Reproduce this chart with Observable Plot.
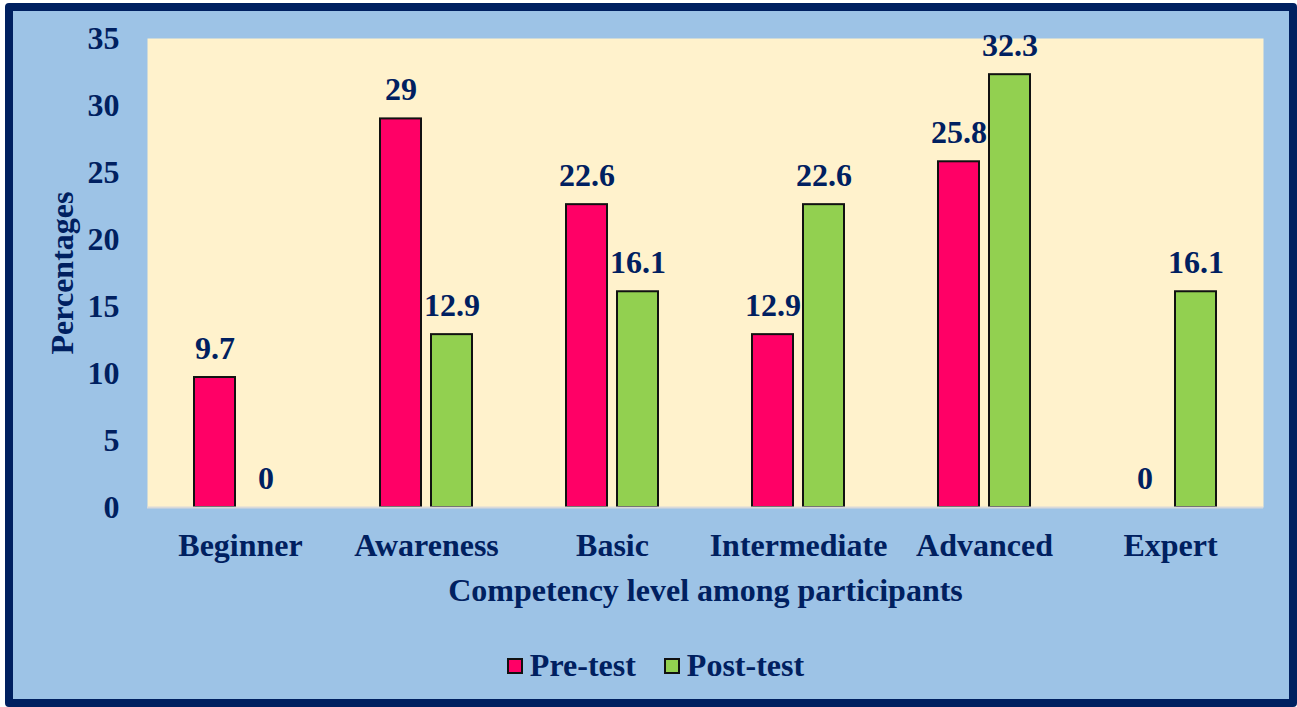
<!DOCTYPE html>
<html>
<head>
<meta charset="utf-8">
<script src="https://cdn.jsdelivr.net/npm/d3@7"></script>
<script src="https://cdn.jsdelivr.net/npm/@observablehq/plot@0.6"></script>
<style>
  html, body { margin: 0; padding: 0; background: #ffffff; }
  #frame {
    position: absolute; left: 5px; top: 3px; width: 1276px; height: 688px;
    border: 8px solid #002060; border-radius: 4px; background: #9DC3E6;
  }
  #chart { position: absolute; left: 0; top: 0; }
  #chart svg text { font-family: "Times New Roman", "Liberation Serif", "DejaVu Serif", serif; }
  #legend {
    position: absolute; left: 7px; top: 645px; width: 1297px; text-align: center; line-height: 40px;
    font-family: "Times New Roman", "Liberation Serif", "DejaVu Serif", serif; font-weight: bold; font-size: 32px; color: #002060;
  }
  .sw { display: inline-block; width: 12px; height: 12px; border: 2px solid #111; margin-right: 7px; vertical-align: 2px; }
  .item { display: inline-block; margin: 0 14px; }
</style>
</head>
<body>
<div id="frame"></div>
<div id="chart"></div>
<div id="legend"></div>
<script>
const categories = ["Beginner", "Awareness", "Basic", "Intermediate", "Advanced", "Expert"];
const series = ["Pre-test", "Post-test"];
const preTest = [9.7, 29, 22.6, 12.9, 25.8, 0];
const postTest = [0, 12.9, 16.1, 22.6, 32.3, 16.1];
const colors = ["#FF0066", "#92D050"];
const yTicks = [0, 5, 10, 15, 20, 25, 30, 35];

const data = [];
categories.forEach((c, i) => {
  data.push({category: c, series: series[0], value: preTest[i]});
  data.push({category: c, series: series[1], value: postTest[i]});
});

const navy = "#002060";
const serifFont = "'Times New Roman', 'Liberation Serif', 'DejaVu Serif', serif";
const plot = Plot.plot({
  width: 1297,
  height: 620,
  marginLeft: 146,
  marginRight: 33,
  marginTop: 38,
  marginBottom: 113,
  style: {background: "transparent", fontFamily: serifFont, fontWeight: "bold", fontSize: "32px", color: navy},
  fx: {domain: categories, padding: 0, label: null},
  x: {domain: series, paddingInner: 0.19, paddingOuter: 0.89, axis: null},
  y: {domain: [0, 35], label: null},
  color: {domain: series, range: colors},
  marks: [
    Plot.frame({fill: "#FFF2CC", stroke: null, facet: "super"}),
    Plot.axisY({ticks: yTicks, tickSize: 0, tickPadding: 28, label: "Percentages", labelAnchor: "center", labelArrow: "none", labelOffset: 97, fill: navy, fontSize: 32}),
    Plot.axisFx({anchor: "bottom", tickSize: 0, tickPadding: 26, label: "Competency level among participants", labelAnchor: "center", labelArrow: "none", labelOffset: 93, fill: navy, fontSize: 32}),
    Plot.barY(data, {fx: "category", x: "series", y: "value", fill: "series", stroke: "#111", strokeWidth: 2}),
    Plot.ruleY([0], {stroke: "#D9D9D9", strokeWidth: 2}),
    Plot.text(data, {fx: "category", x: "series", y: "value", text: d => String(d.value), lineAnchor: "bottom", dy: -19, fill: navy, fontSize: 32, fontWeight: "bold"})
  ]
});
document.getElementById("chart").appendChild(plot);

const legend = document.getElementById("legend");
series.forEach((s, i) => {
  const item = document.createElement("span");
  item.className = "item";
  const sw = document.createElement("span");
  sw.className = "sw";
  sw.style.background = colors[i];
  item.appendChild(sw);
  item.appendChild(document.createTextNode(s));
  legend.appendChild(item);
});
</script>
</body>
</html>
